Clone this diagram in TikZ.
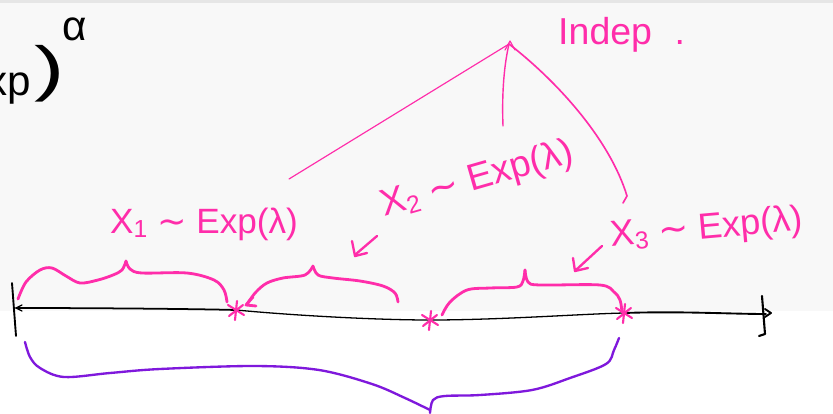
\documentclass[tikz,border=0pt]{standalone}
\usepackage{fontspec}
\setmainfont{Liberation Sans}
\newfontfamily\dvfont{DejaVu Sans}
\definecolor{pk}{HTML}{FF2DAA}
\definecolor{pu}{HTML}{7F18DC}
\definecolor{bgtop}{HTML}{E6E6E6}
\definecolor{bgmain}{HTML}{F8F8F8}
\newcommand\sbx[1]{\raisebox{-0.12em}{\fontsize{21}{21}\selectfont #1}}
\newcommand\tld{{\dvfont ∼}}
\begin{document}
\begin{tikzpicture}[x=0.03cm,y=-0.03cm,
  ink/.style={pk,line width=2.4pt,line cap=round,line join=round},
  thinink/.style={pk,line width=1pt,line cap=round,line join=round},
  purpink/.style={pu,line width=2pt,line cap=round,line join=round},
  axisline/.style={black,line width=1.1pt,line cap=round,line join=round},
  lbl/.style={pk,font=\fontsize{30}{30}\selectfont,inner sep=0pt},
  blk/.style={black,inner sep=0pt},
  asterisk/.pic={\draw[pk,line width=1.8pt,line cap=round] (1,-9) -- (-1,10) (-8,-5) -- (8,5) (-7,6) -- (7,-5);}]
\useasboundingbox (0,0) rectangle (833,413);
\begin{scope}
\clip (0,0) rectangle (833,413);
\fill[white] (0,0) rectangle (833,413);
\fill[bgmain] (0,3) rectangle (833,311);
\fill[bgtop] (0,0) rectangle (833,3);

% black fragment at the left
\node[blk,font=\fontsize{36}{36}\selectfont,anchor=base east] (xp) at (31,95) {xp};
\node[blk,font=\fontsize{52}{52}\selectfont,anchor=base west] (rp) at (34,89) {\scalebox{1.5}[1]{)}};
\node[blk,font=\fontsize{36}{36}\selectfont,anchor=base west] (al) at (62,40) {α};

% labels
\node[lbl,anchor=base west] (lx1) at (110,233) {X\sbx{1} \tld{} Exp(λ)};
\node[lbl,anchor=base west,rotate=16,font=\fontsize{32}{32}\selectfont] (lx2) at (384,217) {X\sbx{2} \tld{} Exp(λ)};
\node[lbl,anchor=base west,rotate=5,font=\fontsize{31}{31}\selectfont] (lx3) at (611,247) {X\sbx{3} \tld{} Exp(λ)};
\node[lbl,anchor=base west,font=\fontsize{32}{32}\selectfont] (indep) at (558,44) {Indep\hspace{0.6em}.};

% lines from the apex
\coordinate (apex) at (509,44);
\coordinate (e1) at (289,179);
\coordinate (e2) at (503,126);
\coordinate (e3) at (627,196);
\draw[thinink] (apex) -- (e1);
\draw[thinink,line width=1.2pt] (apex) .. controls (503,70) and (502,100) .. (e2);
\draw[thinink,line width=1.4pt] (apex) .. controls (558,82) and (610,140) .. (e3) -- ++(-4,7);
\draw[thinink] (505,50) -- (510,41) -- (515,50);

% small arrows
\coordinate (a1s) at (377,236);
\coordinate (a1e) at (356,254);
\draw[ink,line width=2pt] (a1s) -- (a1e);
\draw[ink,line width=2pt] (352,241) -- (355,256) -- (367,253);
\coordinate (a2s) at (602,246);
\coordinate (a2e) at (576,270);
\draw[ink,line width=2pt] (a2s) -- (a2e);
\draw[ink,line width=2pt] (573,258) -- (575,271) -- (588,268);

% axis
\coordinate (o) at (16,308);
\coordinate (s1) at (236,310);
\coordinate (s2) at (430,320);
\coordinate (s3) at (624,313);
\coordinate (t) at (766,314);
\draw[axisline,line width=1.5pt] (o) .. controls (100,308) and (200,309) .. (s1);
\draw[axisline] (s1) .. controls (300,316) and (380,320) .. (s2) .. controls (500,320) and (580,314) .. (s3);
\draw[axisline,line width=1.6pt] (s3) .. controls (680,311) and (730,314) .. (t);
\draw[axisline] (22,305) -- (o) -- (22,311);
\draw[axisline,line width=1.6pt] (12,283) -- (16,336);
\draw[axisline,line width=1.8pt] (762,296) -- (765,334) -- (759,336);
\draw[axisline,line width=1.6pt] (765,309) -- (771,313) -- (765,317);
\pic at (s1) {asterisk};
\pic at (s2) {asterisk};
\pic at (s3) {asterisk};

% pink braces
\draw[ink] plot[smooth,tension=0.55] coordinates {(18,299) (26,282) (40,270) (52,268) (66,276) (80,283) (98,280) (113,275) (122,270) (126,261)};
\draw[ink] plot[smooth,tension=0.55] coordinates {(126,261) (130,269) (142,273) (187,273) (214,280) (224,290) (227,302)};
\draw[ink] plot[smooth,tension=0.55] coordinates {(247,304) (256,292) (267,283) (283,278) (305,275) (313,266)};
\draw[ink] plot[smooth,tension=0.55] coordinates {(313,266) (318,275) (333,278) (360,281) (383,286) (395,293) (398,302)};
\draw[ink] (253,297) -- (246,305) -- (256,306);
\draw[ink] plot[smooth,tension=0.55] coordinates {(442,315) (450,302) (467,290) (490,288) (517,287) (523,281) (525,270)};
\draw[ink] plot[smooth,tension=0.55] coordinates {(525,270) (528,282) (540,285) (600,285) (614,292) (620,300) (622,312)};

% purple brace
\draw[purpink] plot[smooth,tension=0.55] coordinates {(25,342) (30,357) (40,368) (64,377) (110,373) (160,369) (255,366) (319,370) (372,384) (405,398) (430,410)};
\draw[purpink] plot[smooth,tension=0.55] coordinates {(430,413) (433,400) (445,396) (480,395) (532,390) (570,378) (606,364) (614,350) (619,338)};
\end{scope}
\end{tikzpicture}
\end{document}
